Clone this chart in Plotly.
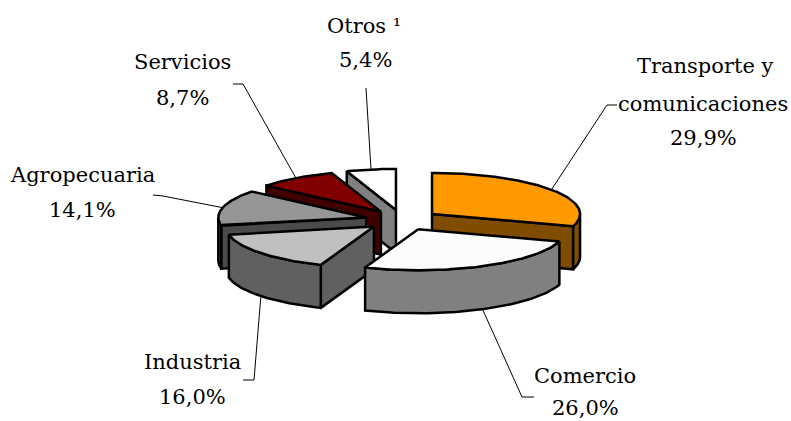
import numpy as np
import plotly.graph_objects as go

categories = ["Transporte y<br>comunicaciones", "Comercio", "Industria", "Agropecuaria", "Servicios", "Otros ¹"]
values = [29.9, 26.0, 16.0, 14.1, 8.7, 5.4]

top_colors = ["#FF9900", "#FBFBFB", "#C0C0C0", "#969696", "#800000", "#FFFFFF"]
side_colors = ["#804D00", "#808080", "#606060", "#4B4B4B", "#400000", "#808080"]
draw_order = [5, 4, 3, 2, 0, 1]

# Pie geometry in canvas units
CX, CY, RX, RY, DEPTH, EXPLODE = 402.2, 220.0, 148.0, 41.0, 43.0, 0.25
# Label centres (one per text line) and leader elbows
label_pos = [[(705, 66), (703, 104), (703, 138)], [(585, 376), (585, 408)], [(192, 362), (192, 397)],
             [(82, 175), (82, 210)], [(182, 62), (182, 98)], [(364, 26), (365, 60)]]
elbows = [[(617, 105), (607, 105)], [(534, 397), (522, 397)], [(243, 380), (254, 380)],
          [(153, 195), (163, 196)], [(233, 84), (243, 84)], [(366, 88)]]
rim_depth = [0, 1, 1, 0, 0, 0]

total = sum(values)
edges = np.concatenate([[0], np.cumsum(values)]) / total * 2 * np.pi


def point(angle, ox, oy, dz=0.0):
    return ox + RX * np.sin(angle), oy - RY * np.cos(angle) + dz


def apex(i):
    mid = (edges[i] + edges[i + 1]) / 2
    return CX + EXPLODE * RX * np.sin(mid), CY - EXPLODE * RY * np.cos(mid)


fig = go.Figure()


def poly(x, y, fill):
    fig.add_trace(go.Scatter(x=list(x), y=list(y), mode="lines", fill="toself", fillcolor=fill,
                             line=dict(color="#000000", width=2.5), hoverinfo="skip", showlegend=False))


def radial_face(ax, ay, t, color):
    rx, ry = point(t, ax, ay)
    poly([ax, rx, rx, ax, ax], [ay, ry, ry + DEPTH, ay + DEPTH, ay], color)


for i in draw_order:
    a, b = edges[i], edges[i + 1]
    ax, ay = apex(i)
    if np.sin(a) < -1e-6:
        radial_face(ax, ay, a, side_colors[i])
    if np.sin(b) > 1e-6:
        radial_face(ax, ay, b, side_colors[i])
    lo, hi = max(a, np.pi / 2), min(b, 3 * np.pi / 2)
    if hi > lo:
        t = np.linspace(lo, hi, 80)
        x, y = point(t, ax, ay)
        poly(np.r_[x, x[::-1], x[0]], np.r_[y, y[::-1] + DEPTH, y[0]], side_colors[i])
    t = np.linspace(a, b, 100)
    x, y = point(t, ax, ay)
    poly(np.r_[ax, x, ax], np.r_[ay, y, ay], top_colors[i])

annotations = []
for i, cat in enumerate(categories):
    lines = cat.split("<br>") + [f"{values[i]:.1f}".replace(".", ",") + "%"]
    for text, (lx, ly) in zip(lines, label_pos[i]):
        annotations.append(dict(x=lx, y=ly, text=text, showarrow=False, xref="x", yref="y",
                                xanchor="center", yanchor="middle",
                                font=dict(family="DejaVu Serif", size=21, color="#000000")))
    ax, ay = apex(i)
    mid = (edges[i] + edges[i + 1]) / 2
    rx, ry = point(mid, ax, ay, DEPTH * rim_depth[i])
    pts = elbows[i] + [(rx, ry)]
    fig.add_trace(go.Scatter(x=[p[0] for p in pts], y=[p[1] for p in pts], mode="lines",
                             line=dict(color="#000000", width=1), hoverinfo="skip", showlegend=False))

fig.update_layout(width=791, height=421, margin=dict(l=0, r=0, t=0, b=0),
                  paper_bgcolor="#FFFFFF", plot_bgcolor="#FFFFFF", annotations=annotations,
                  xaxis=dict(range=[0, 791], visible=False, fixedrange=True),
                  yaxis=dict(range=[421, 0], visible=False, fixedrange=True))
fig.write_html("out.html", config=dict(displayModeBar=False),
               post_script="document.body.style.margin='0';document.body.style.overflow='hidden';")
